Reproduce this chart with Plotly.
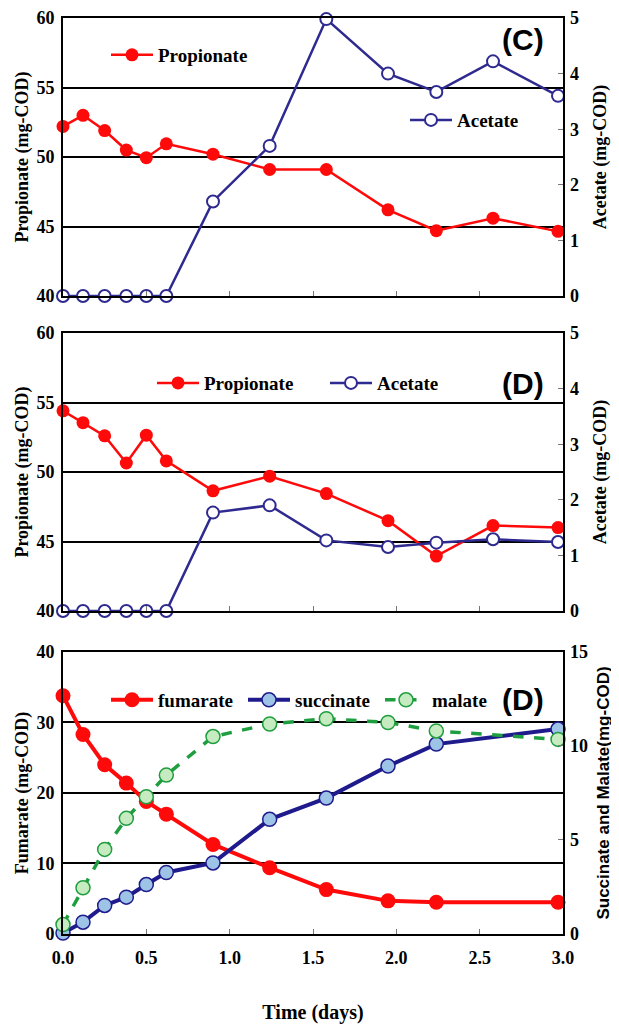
import plotly.graph_objects as go

# ---------------- data ----------------
time13 = [0, 0.12, 0.25, 0.38, 0.5, 0.62, 0.9, 1.24, 1.58, 1.95, 2.24, 2.58, 2.97]
time12 = [0, 0.12, 0.25, 0.38, 0.5, 0.62, 0.9, 1.24, 1.58, 1.95, 2.24, 2.97]

c_propionate = [52.2, 53.0, 51.9, 50.5, 49.95, 50.95, 50.2, 49.1, 49.1, 46.2, 44.7, 45.6, 44.65]
c_acetate = [0, 0, 0, 0, 0, 0, 1.7, 2.7, 4.98, 4.0, 3.67, 4.22, 3.6]

d_propionate = [54.4, 53.55, 52.6, 50.65, 52.65, 50.8, 48.65, 49.7, 48.45, 46.5, 43.95, 46.15, 46.0]
d_acetate = [0, 0, 0, 0, 0, 0, 1.77, 1.9, 1.27, 1.15, 1.23, 1.29, 1.24]

fumarate = [33.8, 28.3, 24.0, 21.4, 18.8, 17.0, 12.7, 9.4, 6.3, 4.7, 4.5, 4.5]
succinate = [0.05, 0.63, 1.52, 1.96, 2.63, 3.27, 3.78, 6.1, 7.23, 8.93, 10.1, 10.9]
malate = [0.5, 2.46, 4.5, 6.15, 7.3, 8.45, 10.5, 11.17, 11.45, 11.25, 10.8, 10.35]

x_ticks = [0.0, 0.5, 1.0, 1.5, 2.0, 2.5, 3.0]
x_ticklabels = ["0.0", "0.5", "1.0", "1.5", "2.0", "2.5", "3.0"]

# ---------------- styles ----------------
RED = "#FF0A0A"
NAVY = "#2E2A8F"
NAVY2 = "#1F1B8C"
LBLUE = "#9DC3E6"
GREEN = "#1E9E3F"
LGREEN = "#C6EBC0"
SERIF = "Liberation Serif"
SANS = "Liberation Sans"

tick_font = dict(family=SERIF, size=18, color="black", weight="bold")
title_font = dict(family=SERIF, size=18, color="black", weight="bold")
legend_font = dict(family=SERIF, size=19, color="black", weight="bold")

fig = go.Figure()

# Panel C
fig.add_trace(go.Scatter(x=time13, y=c_propionate, name="Propionate", mode="lines+markers",
                         line=dict(color=RED, width=2.5), marker=dict(color=RED, size=13),
                         xaxis="x", yaxis="y", legend="legend", cliponaxis=False))
fig.add_trace(go.Scatter(x=time13, y=c_acetate, name="Acetate", mode="lines+markers",
                         line=dict(color=NAVY, width=2.5),
                         marker=dict(color="white", size=12, line=dict(color=NAVY, width=2)),
                         xaxis="x", yaxis="y2", legend="legend2", cliponaxis=False))
# Panel D
fig.add_trace(go.Scatter(x=time13, y=d_propionate, name="Propionate", mode="lines+markers",
                         line=dict(color=RED, width=2.5), marker=dict(color=RED, size=13),
                         xaxis="x2", yaxis="y3", legend="legend3", cliponaxis=False))
fig.add_trace(go.Scatter(x=time13, y=d_acetate, name="Acetate", mode="lines+markers",
                         line=dict(color=NAVY, width=2.5),
                         marker=dict(color="white", size=12, line=dict(color=NAVY, width=2)),
                         xaxis="x2", yaxis="y4", legend="legend3", cliponaxis=False))
# Bottom panel
fig.add_trace(go.Scatter(x=time12, y=fumarate, name="fumarate", mode="lines+markers",
                         line=dict(color=RED, width=4), marker=dict(color=RED, size=15),
                         xaxis="x3", yaxis="y5", legend="legend4", cliponaxis=False))
fig.add_trace(go.Scatter(x=time12, y=succinate, name="succinate", mode="lines+markers",
                         line=dict(color=NAVY2, width=4),
                         marker=dict(color=LBLUE, size=14, line=dict(color=NAVY2, width=1.5)),
                         xaxis="x3", yaxis="y6", legend="legend4", cliponaxis=False))
fig.add_trace(go.Scatter(x=time12, y=malate, name="malate", mode="lines+markers",
                         line=dict(color=GREEN, width=3.5, dash="dash"),
                         marker=dict(color=LGREEN, size=14, line=dict(color=GREEN, width=1.5)),
                         xaxis="x3", yaxis="y6", legend="legend4", cliponaxis=False))

dom_top = [0.6965, 1.0]
dom_mid = [0.3526, 0.6561]
dom_bot = [0.0, 0.3079]

def xax(anchor, show_labels, title=None):
    d = dict(domain=[0, 1], anchor=anchor, range=[0, 3], tickvals=x_ticks, ticktext=x_ticklabels,
             ticks="inside", ticklen=5, tickwidth=1, tickcolor="#777",
             showline=True, linecolor="black", linewidth=2, mirror=True,
             showgrid=False, zeroline=False, showticklabels=show_labels,
             tickfont=tick_font, automargin=False, ticklabelstandoff=6)
    if title:
        d["title"] = dict(text=title, font=dict(family=SERIF, size=20, color="black", weight="bold"),
                          standoff=42)
    return d

def yleft(anchor, dom, rng, dtick, title):
    return dict(domain=dom, anchor=anchor, range=rng, dtick=dtick, ticks="",
                showline=True, linecolor="black", linewidth=2, mirror=True,
                showgrid=True, gridcolor="black", gridwidth=1.5, zeroline=False,
                tickfont=tick_font, automargin=False, ticklabelstandoff=3,
                title=dict(text=title, font=title_font, standoff=3))

def yright(anchor, overlay, rng, dtick, title, tfont=title_font, standoff=15):
    return dict(overlaying=overlay, anchor=anchor, side="right", range=rng, dtick=dtick,
                ticks="inside", ticklen=5, tickcolor="#777", showline=False, showgrid=False,
                zeroline=False, tickfont=tick_font, automargin=False, ticklabelstandoff=6,
                title=dict(text=title, font=tfont, standoff=standoff))

layout = dict(
    width=611, height=1016, paper_bgcolor="white", plot_bgcolor="white",
    margin=dict(l=55, r=56, t=10, b=90),
    xaxis=xax("y", False),
    xaxis2=xax("y3", False),
    xaxis3=xax("y5", True, "Time (days)"),
    yaxis=yleft("x", dom_top, [40, 60], 5, "Propionate (mg-COD)"),
    yaxis2=yright("x", "y", [0, 5], 1, "Acetate (mg-COD)"),
    yaxis3=yleft("x2", dom_mid, [40, 60], 5, "Propionate (mg-COD)"),
    yaxis4=yright("x2", "y3", [0, 5], 1, "Acetate (mg-COD)"),
    yaxis5=yleft("x3", dom_bot, [0, 40], 10, "Fumarate (mg-COD)"),
    yaxis6=yright("x3", "y5", [0, 15], 5, "Succinate and Malate(mg-COD)",
                  tfont=dict(family=SANS, size=17, color="black", weight="bold"), standoff=10),
    legend=dict(x=0.086, y=0.9596, xanchor="left", yanchor="middle", font=legend_font,
                bgcolor="rgba(0,0,0,0)", borderwidth=0, itemwidth=42),
    legend2=dict(x=0.684, y=0.8886, xanchor="left", yanchor="middle", font=legend_font,
                 bgcolor="rgba(0,0,0,0)", borderwidth=0, itemwidth=42),
    legend3=dict(x=0.178, y=0.6015, xanchor="left", yanchor="middle", orientation="h",
                 font=legend_font, bgcolor="rgba(0,0,0,0)", borderwidth=0, itemwidth=42,
                 entrywidth=116, entrywidthmode="pixels"),
    legend4=dict(x=0.086, y=0.2555, xanchor="left", yanchor="middle", orientation="h",
                 font=legend_font, bgcolor="rgba(0,0,0,0)", borderwidth=0, itemwidth=42,
                 entrywidth=80, entrywidthmode="pixels"),
    showlegend=True,
    annotations=[
        dict(text="(C)", x=0.92, y=0.976, xref="paper", yref="paper", showarrow=False,
             xanchor="center", yanchor="middle",
             font=dict(family=SANS, size=30, color="black", weight="bold")),
        dict(text="(D)", x=0.92, y=0.6015, xref="paper", yref="paper", showarrow=False,
             xanchor="center", yanchor="middle",
             font=dict(family=SANS, size=30, color="black", weight="bold")),
        dict(text="(D)", x=0.92, y=0.2555, xref="paper", yref="paper", showarrow=False,
             xanchor="center", yanchor="middle",
             font=dict(family=SANS, size=30, color="black", weight="bold")),
    ],
)
fig.update_layout(**layout)
fig.write_html("out.html")
